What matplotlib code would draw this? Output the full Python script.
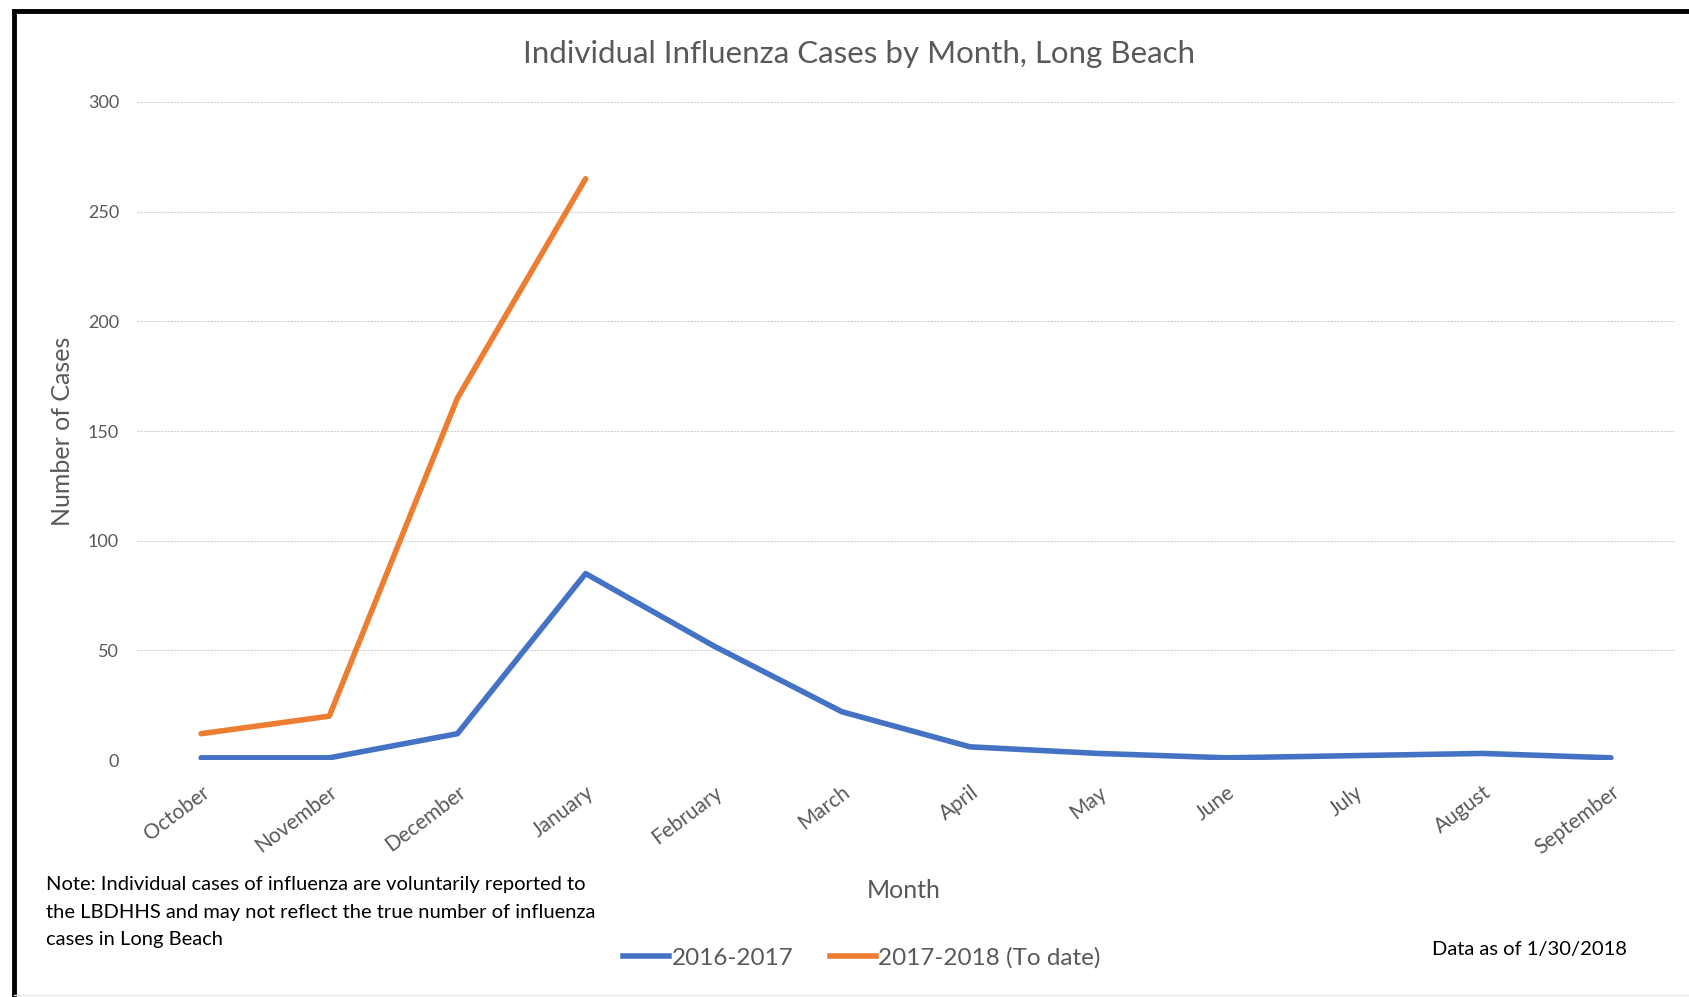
import matplotlib.pyplot as plt
from matplotlib.lines import Line2D

months = ['October', 'November', 'December', 'January', 'February', 'March',
          'April', 'May', 'June', 'July', 'August', 'September']
cases_1617 = [1, 1, 12, 85, 52, 22, 6, 3, 1, 2, 3, 1]
cases_1718 = [12, 20, 165, 265]

blue = '#4472C4'
orange = '#ED7D31'
grey = '#595959'

plt.rcParams['font.family'] = ['Lato', 'DejaVu Sans']

fig = plt.figure(figsize=(16.9, 9.97), dpi=100)
ax = fig.add_axes([0.0811, 0.2377, 0.91, 0.66])

x = list(range(len(months)))
ax.plot(x, cases_1617, color=blue, lw=4, solid_capstyle='round',
        solid_joinstyle='round', label='2016-2017')
ax.plot(x[:len(cases_1718)], cases_1718, color=orange, lw=4,
        solid_capstyle='round', solid_joinstyle='round',
        label='2017-2018 (To date)')

ax.set_xlim(-0.5, 11.5)
ax.set_ylim(0, 300)
ax.set_yticks(range(0, 301, 50))
ax.grid(axis='y', color='#D0D0D0', lw=0.8, ls=(0, (2, 1)))
ax.set_axisbelow(True)
for s in ax.spines.values():
    s.set_visible(False)
ax.tick_params(length=0, colors=grey)
ax.tick_params(axis='y', pad=13, labelsize=13)
ax.set_xticks(x)
ax.set_xticklabels(months, rotation=37, ha='right', va='top',
                   rotation_mode='anchor', fontsize=15)
ax.tick_params(axis='x', pad=16)

ax.set_ylabel('Number of Cases', color=grey, fontsize=18, labelpad=10)
fig.text(0.535, 0.107, 'Month', color=grey, fontsize=18, ha='center',
         va='center')
fig.text(0.508, 0.946, 'Individual Influenza Cases by Month, Long Beach',
         color=grey, fontsize=22.5, ha='center', va='center')

fig.text(0.027, 0.085,
         'Note: Individual cases of influenza are voluntarily reported to\n'
         'the LBDHHS and may not reflect the true number of influenza\n'
         'cases in Long Beach', fontsize=14.5, color='black', ha='left',
         va='center', linespacing=1.75)
fig.text(0.963, 0.048, 'Data as of 1/30/2018', fontsize=14.5, color='black',
         ha='right', va='center')

handles = [Line2D([], [], color=blue, lw=4),
           Line2D([], [], color=orange, lw=4)]
fig.legend(handles, ['2016-2017', '2017-2018 (To date)'], loc='center',
           bbox_to_anchor=(0.510, 0.039), ncol=2, frameon=False,
           fontsize=17.5, labelcolor=grey, handlelength=1.9,
           handletextpad=0.1, columnspacing=1.5)

# frame like the screenshot
fig.add_artist(Line2D([0.008, 0.008], [0.0, 0.989], color='black', lw=3.5,
                      transform=fig.transFigure))
fig.add_artist(Line2D([0.008, 1.0], [0.989, 0.989], color='black', lw=3.5,
                      transform=fig.transFigure))
fig.add_artist(Line2D([0.008, 1.0], [0.002, 0.002], color='#E6E6E6', lw=1,
                      transform=fig.transFigure))

fig.savefig('out.png', dpi=100)
